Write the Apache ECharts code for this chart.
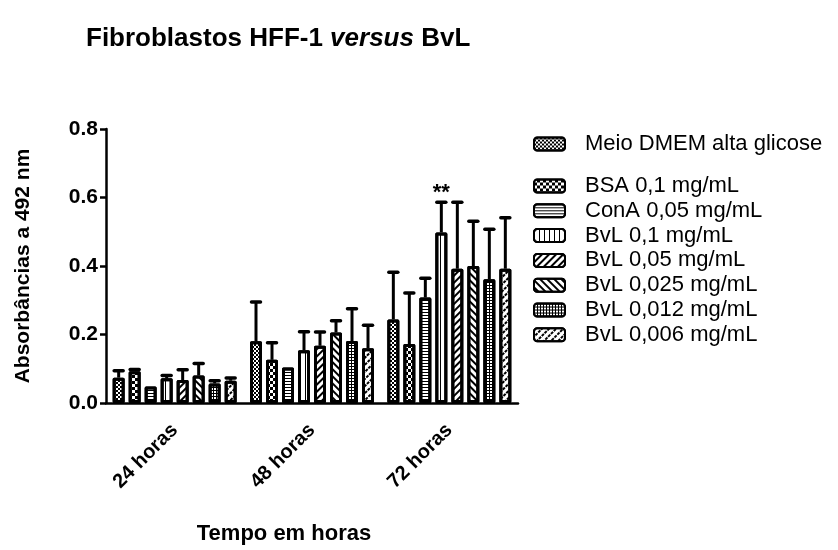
<!DOCTYPE html>
<html>
<head>
<meta charset="utf-8">
<script src="https://cdn.jsdelivr.net/npm/echarts@6/dist/echarts.min.js"></script>
<style>
html,body{margin:0;padding:0;background:#fff;}
#chart{width:838px;height:550px;}
</style>
</head>
<body>
<div id="chart"></div>
<script>
// ---- data ----
const categories = ['24 horas', '48 horas', '72 horas'];
const seriesNames = [
  'Meio DMEM alta glicose',
  'BSA 0,1 mg/mL',
  'ConA 0,05 mg/mL',
  'BvL 0,1 mg/mL',
  'BvL 0,05 mg/mL',
  'BvL 0,025 mg/mL',
  'BvL 0,012 mg/mL',
  'BvL 0,006 mg/mL'
];
const meanDMEM   = [0.074, 0.180, 0.244];
const meanBSA    = [0.093, 0.126, 0.172];
const meanConA   = [0.048, 0.104, 0.308];
const meanBvL100 = [0.072, 0.154, 0.498];
const meanBvL050 = [0.067, 0.167, 0.392];
const meanBvL025 = [0.080, 0.206, 0.400];
const meanBvL012 = [0.057, 0.181, 0.361];
const meanBvL006 = [0.065, 0.160, 0.392];

const errDMEM   = [0.020, 0.115, 0.138];
const errBSA    = [0.005, 0.050, 0.149];
const errConA   = [0.000, 0.000, 0.056];
const errBvL100 = [0.008, 0.054, 0.088];
const errBvL050 = [0.030, 0.040, 0.194];
const errBvL025 = [0.035, 0.034, 0.131];
const errBvL012 = [0.008, 0.094, 0.146];
const errBvL006 = [0.008, 0.067, 0.149];

const sigBvL100 = ['', '', '**'];

const yTicks = [0.0, 0.2, 0.4, 0.6, 0.8];

const means = [meanDMEM, meanBSA, meanConA, meanBvL100, meanBvL050, meanBvL025, meanBvL012, meanBvL006];
const errs  = [errDMEM, errBSA, errConA, errBvL100, errBvL050, errBvL025, errBvL012, errBvL006];
const sigs  = [null, null, null, sigBvL100, null, null, null, null];

// ---- styles ----
const FONT = '"Liberation Sans", Arial, Helvetica, sans-serif';
const BAR_W = 12;
const BAR_GAP_PX = 4;
const PITCH = BAR_W + BAR_GAP_PX;
const N = seriesNames.length;

const decals = [
  {symbol:'rect', symbolSize:1, color:'#000', dashArrayX:[[2,2],[0,2,2,0]], dashArrayY:[2,0]},
  {symbol:'rect', symbolSize:1, color:'#000', dashArrayX:[[3,3],[0,3,3,0]], dashArrayY:[3,0]},
  {symbol:'rect', symbolSize:1, color:'#000', dashArrayX:[1,0], dashArrayY:[1,2]},
  {symbol:'rect', symbolSize:1, color:'#000', dashArrayX:[1,4], dashArrayY:[1,0]},
  {symbol:'rect', symbolSize:1, color:'#000', dashArrayX:[1,0], dashArrayY:[1.5,2.5], rotation:-Math.PI/4},
  {symbol:'rect', symbolSize:1, color:'#000', dashArrayX:[1,0], dashArrayY:[1.5,2.5], rotation:Math.PI/4},
  {symbol:'rect', symbolSize:1, color:'#000', dashArrayX:[[3,0],[1,2]], dashArrayY:[1,0,2,0]},
  {symbol:'rect', symbolSize:1, color:'#000', dashArrayX:[3,1], dashArrayY:[1.5,2.5], rotation:-Math.PI/4}
];

const series = [];
seriesNames.forEach((name, i) => {
  series.push({
    name: name,
    type: 'bar',
    data: means[i],
    barWidth: BAR_W,
    barGap: (BAR_GAP_PX / BAR_W * 100) + '%',
    itemStyle: {
      color: '#fff',
      borderColor: '#000',
      borderWidth: 3,
      borderJoin: 'round',
      decal: decals[i]
    },
    emphasis: {disabled: true},
    z: 2
  });
});

seriesNames.forEach((name, i) => {
  const offset = -((N - 1) * PITCH) / 2 + i * PITCH;
  series.push({
    name: 'err-' + i,
    type: 'custom',
    data: categories.map((c, k) => [k, means[i][k], errs[i][k]]),
    z: 3,
    silent: true,
    renderItem: function (params, api) {
      const k = api.value(0);
      const m = api.value(1);
      const e = api.value(2);
      const x = api.coord([k, 0])[0] + offset;
      const yTop = api.coord([k, m])[1];
      const yErr = api.coord([k, m + e])[1];
      const children = [];
      if (e > 0) {
        children.push({
          type: 'line',
          shape: {x1: x, y1: yTop, x2: x, y2: yErr},
          style: {stroke: '#000', lineWidth: 3}
        });
        children.push({
          type: 'line',
          shape: {x1: x - 4.5, y1: yErr, x2: x + 4.5, y2: yErr},
          style: {stroke: '#000', lineWidth: 3.5, lineCap: 'round'}
        });
      }
      const sig = sigs[i] ? sigs[i][params.dataIndex] : '';
      if (sig) {
        children.push({
          type: 'text',
          style: {
            text: sig, x: x, y: yErr + 2,
            align: 'center', verticalAlign: 'bottom',
            font: 'bold 22px ' + FONT, fill: '#000'
          }
        });
      }
      return {type: 'group', children: children};
    }
  });
});

const legendCommon = {
  orient: 'vertical',
  left: 533,
  padding: 0,
  itemWidth: 31,
  itemHeight: 13,
  itemGap: 2.8,
  selectedMode: false,
  textStyle: {
    fontFamily: FONT,
    fontSize: 22,
    lineHeight: 21,
    color: '#000',
    padding: [0, 0, 0, 15]
  }
};

const option = {
  backgroundColor: '#fff',
  animation: false,
  title: {
    text: '{b|Fibroblastos HFF-1 }{i|versus}{b| BvL}',
    left: 86,
    top: 26,
    padding: 0,
    textStyle: {
      rich: {
        b: {fontFamily: FONT, fontWeight: 'bold', fontSize: 26, color: '#000'},
        i: {fontFamily: FONT, fontWeight: 'bold', fontStyle: 'italic', fontSize: 26, color: '#000'}
      }
    }
  },
  legend: [
    Object.assign({}, legendCommon, {top: 133, data: [seriesNames[0]]}),
    Object.assign({}, legendCommon, {top: 175, data: seriesNames.slice(1)})
  ],
  grid: {left: 106, top: 129, width: 412, height: 276},
  xAxis: {
    type: 'category',
    data: categories,
    name: 'Tempo em horas',
    nameLocation: 'middle',
    nameGap: 120,
    nameTextStyle: {fontFamily: FONT, fontWeight: 'bold', fontSize: 22, color: '#000', padding: [0, 56, 0, 0]},
    axisLine: {lineStyle: {color: '#000', width: 2.5}},
    axisTick: {alignWithLabel: true, length: 8, lineStyle: {color: '#000', width: 2.5}},
    axisLabel: {rotate: 45, margin: 24, fontFamily: FONT, fontWeight: 'bold', fontSize: 20, color: '#000'},
    splitLine: {show: false}
  },
  yAxis: {
    type: 'value',
    min: yTicks[0],
    max: yTicks[yTicks.length - 1],
    interval: 0.2,
    name: 'Absorbâncias a 492 nm',
    nameLocation: 'middle',
    nameGap: 72,
    nameTextStyle: {fontFamily: FONT, fontWeight: 'bold', fontSize: 21, color: '#000'},
    axisLine: {show: true, lineStyle: {color: '#000', width: 2.5}},
    axisTick: {show: true, length: 6, lineStyle: {color: '#000', width: 2.5}},
    axisLabel: {margin: 8, fontFamily: FONT, fontWeight: 'bold', fontSize: 21, color: '#000',
      formatter: v => v.toFixed(1)},
    splitLine: {show: false}
  },
  series: series
};

const chart = echarts.init(document.getElementById('chart'), null, {renderer: 'canvas'});
chart.setOption(option);
</script>
</body>
</html>
